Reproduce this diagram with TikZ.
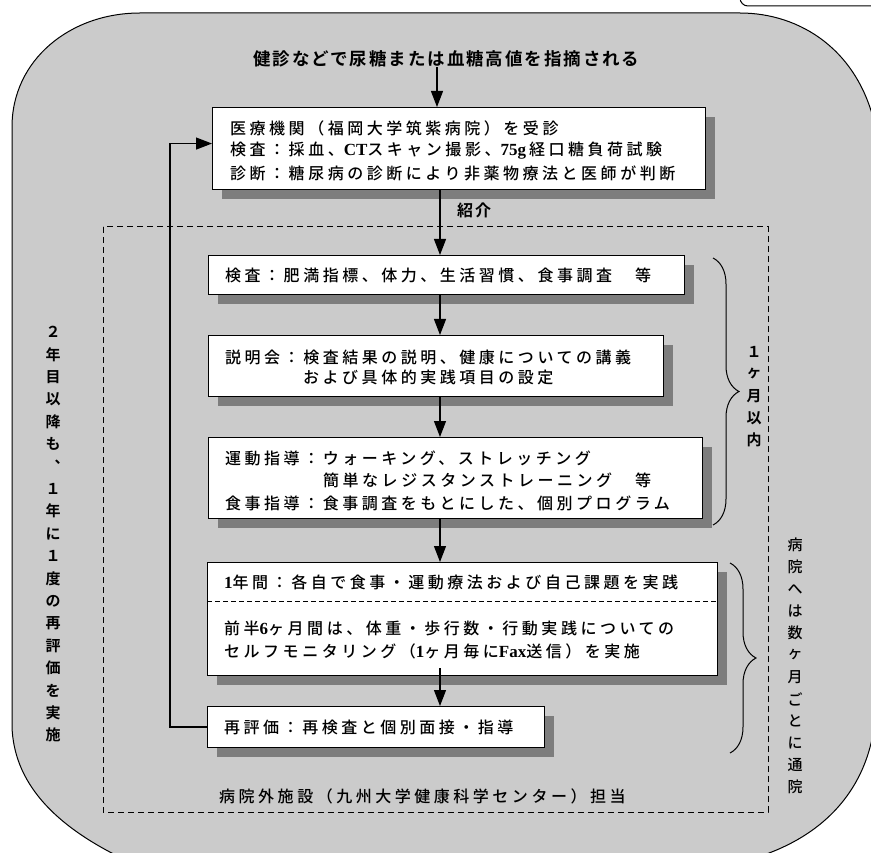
\documentclass[tikz,border=0pt]{standalone}
\usepackage{fontspec}
\usetikzlibrary{arrows.meta,decorations.pathreplacing}
\newfontfamily\jpT{Noto Sans CJK JP}[UprightFont=* Bold, LetterSpace=11]
\newfontfamily\jpM{Noto Sans CJK JP}[UprightFont=* Medium, LetterSpace=22]
\newfontfamily\jpV{Noto Sans CJK JP}[UprightFont=* Bold]
\newfontfamily\jpVM{Noto Sans CJK JP}[UprightFont=* Medium]
\newfontfamily\tmR{Liberation Serif}[UprightFont=* Bold]
\newcommand\lat[1]{{\tmR\fontsize{17}{20}\selectfont #1}}
\definecolor{bgc}{RGB}{203,203,203}
\definecolor{boxshadow}{RGB}{125,125,125}
\begin{document}
\begin{tikzpicture}[x=1pt,y=-1pt,
  box/.style={draw=black,line width=1.1pt,fill=white,inner sep=0pt,anchor=north west},
  shdw/.style={fill=boxshadow},
  arr/.style={line width=1.2pt,-{Triangle[width=12pt,length=16pt]}},
  btxt/.style={anchor=west,inner sep=0pt,font=\jpM\fontsize{16}{20}\selectfont},
  ttxt/.style={anchor=west,inner sep=0pt,font=\jpT\fontsize{17.5}{20}\selectfont},
  vchar/.style={inner sep=0pt,font=\jpV\fontsize{15}{18}\selectfont},
  vcharm/.style={inner sep=0pt,font=\jpVM\fontsize{15}{18}\selectfont},
  dashbox/.style={line width=1pt,dash pattern=on 6pt off 4pt},
  brc/.style={line width=1pt,decorate,decoration={brace,amplitude=26pt}}]
\useasboundingbox (0,0) rectangle (871,853);
\clip (0,0) rectangle (871,853);
% background
\draw[fill=bgc,line width=1pt] (12,127) .. controls (12,60) and (70,13) .. (140,13)
  -- (740,13) .. controls (800,13) and (860,50) .. (876,130)
  -- (876,700) .. controls (876,780) and (830,840) .. (740,862)
  -- (130,862) .. controls (50,825) and (14,780) .. (12,727) -- cycle;
\draw[line width=1pt,rounded corners=8pt] (740,-20) -- (740,6) -- (890,6);
% dashed region
\draw[dashbox] (103,227) rectangle (768,812);
% shadows
\path[shdw] (222,117) rectangle (715,199);
\path[shdw] (218,265) rectangle (694,304);
\path[shdw] (218,345) rectangle (673,406);
\path[shdw] (218,447) rectangle (712,528);
\path[shdw] (217,572) rectangle (727,685);
\path[shdw] (217,716) rectangle (554,757);
% title
\node[ttxt] (title) at (253,59) {健診などで尿糖または血糖高値を指摘される};
% boxes
\node[box,minimum width=493pt,minimum height=82pt] (b1) at (212,107) {};
\node[box,minimum width=476pt,minimum height=39pt] (b2) at (208,255) {};
\node[box,minimum width=455pt,minimum height=61pt] (b3) at (208,335) {};
\node[box,minimum width=494pt,minimum height=81pt] (b4) at (208,437) {};
\node[box,minimum width=510pt,minimum height=113pt] (b5) at (207,562) {};
\node[box,minimum width=337pt,minimum height=41pt] (b6) at (207,706) {};
\draw[line width=0.9pt,dash pattern=on 5pt off 3pt] (b5.west |- 0,601) -- (b5.east |- 0,601);
% texts
\node[btxt] (t1a) at (230,128) {医療機関（福岡大学筑紫病院）を受診};
\node[btxt] (t1b) at (230,151) {検査：採血、\lat{CT}スキャン撮影、\lat{75g}\hspace{3pt}経口糖負荷試験};
\node[btxt] (t1c) at (230,173) {診断：糖尿病の診断により非薬物療法と医師が判断};
\node[btxt] (t2) at (225,275) {検査：肥満指標、体力、生活習慣、食事調査　等};
\node[btxt] (t3a) at (225,357) {説明会：検査結果の説明、健康についての講義};
\node[btxt] (t3b) at (303,377) {および具体的実践項目の設定};
\node[btxt] (t4a) at (225,458) {運動指導：ウォーキング、ストレッチング};
\node[btxt] (t4b) at (323,480) {簡単なレジスタンストレーニング　等};
\node[btxt] (t4c) at (225,503) {食事指導：食事調査をもとにした、個別プログラム};
\node[btxt] (t5a) at (224,582) {\lat{1}年間：各自で食事・運動療法および自己課題を実践};
\node[btxt] (t5b) at (224,628) {前半\lat{6}ヶ月間は、体重・歩行数・行動実践についての};
\node[btxt] (t5c) at (224,651) {セルフモニタリング（\lat{1}ヶ月毎に\lat{Fax}送信）を実施};
\node[btxt] (t6) at (224,727) {再評価：再検査と個別面接・指導};
\node[btxt] (foot) at (219,796) {病院外施設（九州大学健康科学センター）担当};
\node[anchor=west,inner sep=0pt,font=\jpV\fontsize{16}{20}\selectfont] (intro) at (457,210) {紹\hspace{2pt}介};
% connectors
\coordinate (ax) at (440,0);
\coordinate (ay) at (437,0);
\draw[arr] (title.south -| ay) -- (ay |- b1.north);
\draw[arr] (b1.south -| ax) -- (ax |- b2.north);
\draw[arr] (b2.south -| ax) -- (ax |- b3.north);
\draw[arr] (b3.south -| ax) -- (ax |- b4.north);
\draw[arr] (b4.south -| ax) -- (ax |- b5.north);
\draw[arr] ([yshift=8pt]b5.south -| ax) -- (ax |- b6.north);
\draw[arr] (b6.west) -- ++(-37,0) |- ([yshift=5pt]b1.west);
% braces
\draw[brc] (713,258) -- (713,525);
\draw[brc] (730,563) -- (730,753);
% vertical labels
\foreach \c [count=\i from 0] in {２,年,目,以,降,も,︑,１,年,に,１,度,の,再,評,価,を,実,施}
  \node[vchar] (lv\i) at (53,332+22.4*\i) {\c};
\foreach \c [count=\i from 0] in {１,ヶ,月,以,内}
  \node[vchar] (mv\i) at (754,352+22*\i) {\c};
\foreach \c [count=\i from 0] in {病,院,へ,は,数,ヶ,月,ご,と,に,通,院}
  \node[vcharm] (rv\i) at (795,545+22*\i) {\c};
\end{tikzpicture}
\end{document}
